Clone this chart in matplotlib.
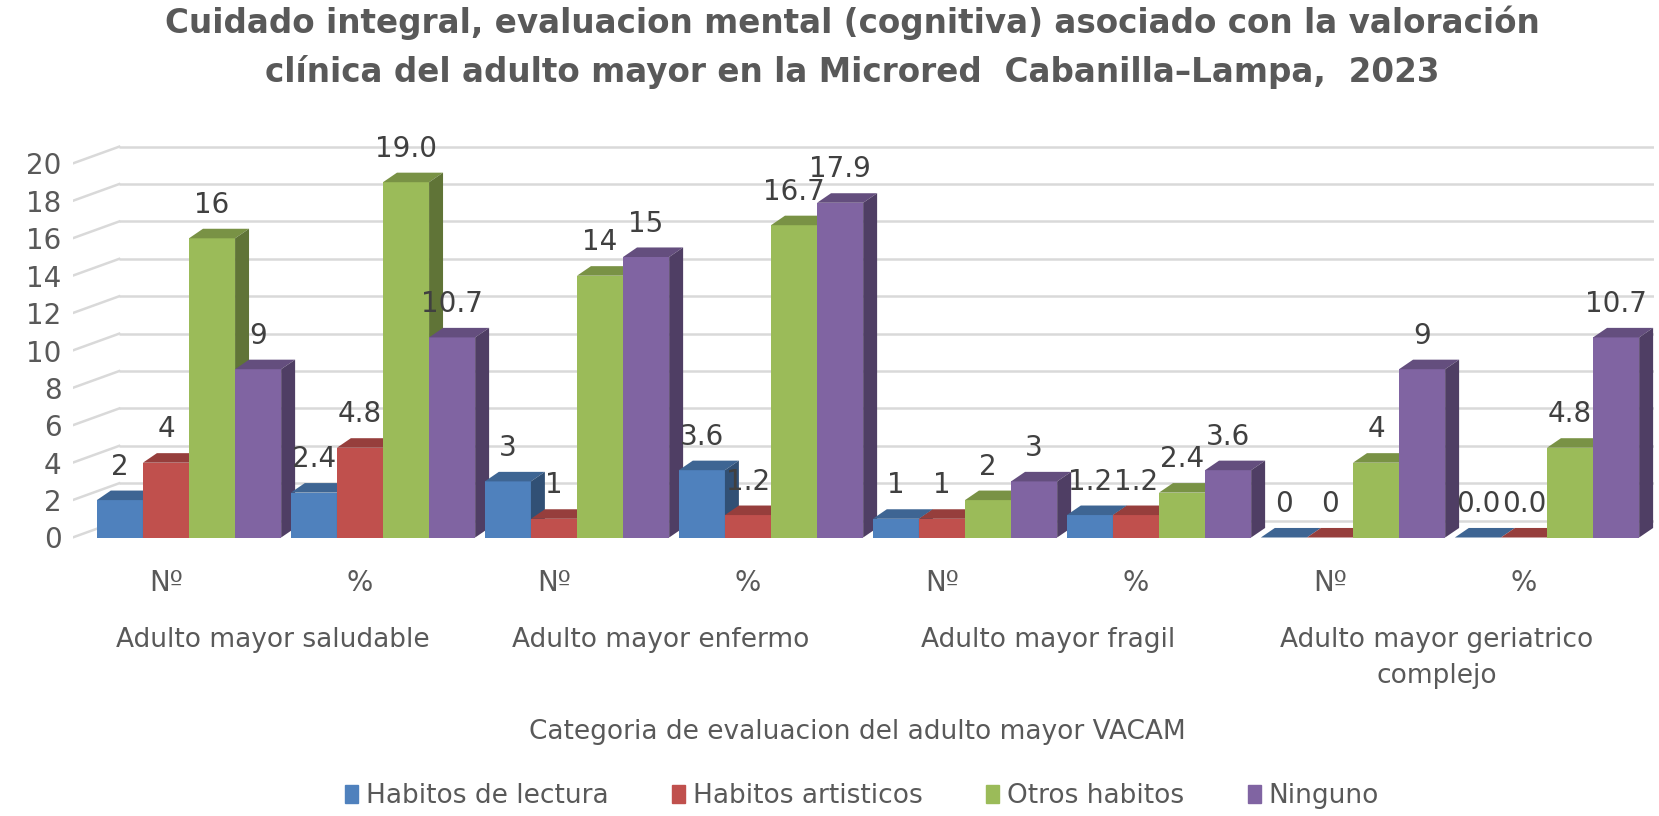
import numpy as np
import matplotlib.pyplot as plt
from matplotlib.patches import Patch
from matplotlib.colors import to_rgb
from matplotlib.transforms import blended_transform_factory

# --- data ---
title_lines = [
    "Cuidado integral, evaluacion mental (cognitiva) asociado con la valoración",
    "clínica del adulto mayor en la Microred  Cabanilla\u2013Lampa,  2023",
]
sub_labels = ["Nº", "%", "Nº", "%", "Nº", "%", "Nº", "%"]
group_labels = ["Adulto mayor saludable", "Adulto mayor enfermo",
                "Adulto mayor fragil", "Adulto mayor geriatrico\ncomplejo"]
series_names = ["Habitos de lectura", "Habitos artisticos", "Otros habitos", "Ninguno"]
lectura = [2, 2.4, 3, 3.6, 1, 1.2, 0, 0.0]
artisticos = [4, 4.8, 1, 1.2, 1, 1.2, 0, 0.0]
otros = [16, 19.0, 14, 16.7, 2, 2.4, 4, 4.8]
ninguno = [9, 10.7, 15, 17.9, 3, 3.6, 9, 10.7]
y_ticks = list(range(0, 21, 2))
x_title = "Categoria de evaluacion del adulto mayor VACAM"

colors = ["#4f81bd", "#c0504d", "#9bbb59", "#8064a2"]
txt = "#595959"
grid_c = "#d9d9d9"


def shade(c, f):
    r, g, b = to_rgb(c)
    return (r * f, g * f, b * f)


W, H = 1659, 816
fig = plt.figure(figsize=(W / 100, H / 100), dpi=100)
ax = fig.add_axes([72.6 / W, 1 - 556.2 / H, (1653.7 - 72.6) / W, 430.1 / H])
x_min, x_max = -0.6, 7.55
ax.set_xlim(x_min, x_max)
ax.set_ylim(-1, 22)

# fake 3D geometry (in data units)
wall_dx, wall_dy = 0.24, 0.9
bar_w = 0.2375
dep_x, dep_y = 0.072, 0.51

# back wall gridlines + left diagonals
for v in y_ticks:
    ax.plot([x_min + wall_dx, x_max], [v + wall_dy, v + wall_dy], color=grid_c, lw=1.8, zorder=1,
            solid_capstyle="butt")
    ax.plot([x_min, x_min + wall_dx], [v, v + wall_dy], color=grid_c, lw=1.8, zorder=1)

data = [lectura, artisticos, otros, ninguno]
x = np.arange(len(sub_labels))
z = 2
for k in x:
    for j, vals in enumerate(data):
        v = vals[k]
        x0 = k - 2 * bar_w + j * bar_w
        x1 = x0 + bar_w
        c = colors[j]
        ax.bar(x0, v, width=bar_w, align="edge", color=c, zorder=z)
        ax.fill([x0, x1, x1 + dep_x, x0 + dep_x], [v, v, v + dep_y, v + dep_y],
                color=shade(c, 0.78), zorder=z, lw=0)
        ax.fill([x1, x1 + dep_x, x1 + dep_x, x1], [0, dep_y, v + dep_y, v],
                color=shade(c, 0.62), zorder=z, lw=0)
        z += 1
        lab = f"{v:.1f}" if sub_labels[k] == "%" else f"{v:g}"
        ax.annotate(lab, (x0 + bar_w / 2, v), xytext=(0, 24), textcoords="offset points",
                    ha="center", va="center", fontsize=20, color="#404040", zorder=100)

for s in ax.spines.values():
    s.set_visible(False)
ax.set_yticks(y_ticks)
ax.set_yticklabels([str(t) for t in y_ticks], fontsize=20, color=txt)
ax.set_xticks(x - 0.12)
ax.set_xticklabels(sub_labels, fontsize=20, color=txt)
ax.tick_params(axis="y", length=0, pad=8)
ax.tick_params(axis="x", length=0, pad=9)

# group labels (data x, figure y)
trans = blended_transform_factory(ax.transData, fig.transFigure)
for i, g in enumerate(group_labels):
    ax.text(2 * i + 0.5 - 0.07, 1 - 627 / H, g, transform=trans, fontsize=19, color=txt,
            ha="center", va="top", linespacing=1.5)

fig.text(857 / W, 1 - 732 / H, x_title, fontsize=19, color=txt, ha="center", va="center")

fig.text(852 / W, 1 - 23 / H, title_lines[0], fontsize=23.5, fontweight="bold", color=txt,
         ha="center", va="center")
fig.text(852 / W, 1 - 72 / H, title_lines[1], fontsize=23.5, fontweight="bold", color=txt,
         ha="center", va="center")

handles = [Patch(color=c) for c in colors]
fig.legend(handles, series_names, loc="center", bbox_to_anchor=(862 / W, 1 - 796 / H), ncol=4,
           frameon=False, fontsize=19, handlelength=0.5, handleheight=0.7, handletextpad=0.3,
           columnspacing=2.4, labelcolor=txt)

fig.savefig("out.png", dpi=100)
